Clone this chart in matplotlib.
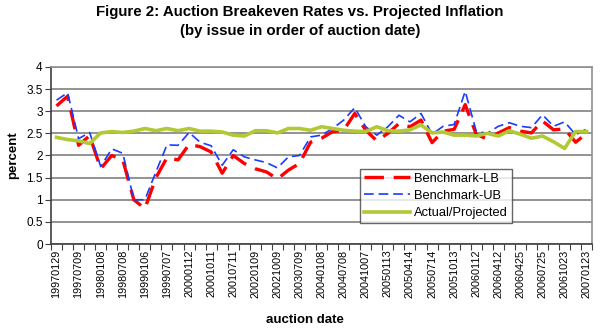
import matplotlib
matplotlib.use("Agg")
import matplotlib.pyplot as plt
import numpy as np

plt.rcParams['font.family'] = ['Liberation Sans', 'DejaVu Sans']
plt.rcParams['lines.scale_dashes'] = False

tick_labels = ["19970129", "19970709", "19980108", "19980708", "19990106",
               "19990707", "20000112", "20001011", "20010711", "20020109",
               "20021009", "20030709", "20040108", "20040708", "20041007",
               "20050113", "20050414", "20050714", "20051013", "20060112",
               "20060412", "20060425", "20060725", "20061023", "20070123"]

benchmark_lb = [3.12, 3.34, 2.23, 2.45, 1.70, 2.00, 1.90, 1.00, 0.80, 1.50,
                1.95, 1.90, 2.25, 2.20, 2.08, 1.60, 2.00, 1.82, 1.70, 1.63,
                1.47, 1.67, 1.82, 2.30, 2.39, 2.54, 2.57, 2.95, 2.57, 2.33,
                2.50, 2.72, 2.65, 2.80, 2.29, 2.55, 2.59, 3.15, 2.48, 2.37,
                2.51, 2.63, 2.55, 2.51, 2.78, 2.58, 2.60, 2.30, 2.50]

benchmark_ub = [3.25, 3.42, 2.38, 2.52, 1.75, 2.15, 2.05, 1.00, 1.00, 1.63,
                2.24, 2.23, 2.52, 2.30, 2.22, 1.78, 2.13, 1.97, 1.90, 1.84,
                1.72, 1.97, 2.00, 2.42, 2.46, 2.61, 2.80, 3.08, 2.65, 2.46,
                2.65, 2.91, 2.76, 2.95, 2.48, 2.66, 2.70, 3.45, 2.55, 2.50,
                2.66, 2.74, 2.66, 2.63, 2.92, 2.66, 2.76, 2.47, 2.60]

actual_projected = [2.41, 2.36, 2.33, 2.27, 2.51, 2.54, 2.52, 2.55, 2.61, 2.56,
                    2.61, 2.56, 2.61, 2.55, 2.55, 2.53, 2.46, 2.44, 2.56, 2.56,
                    2.51, 2.61, 2.61, 2.57, 2.65, 2.61, 2.57, 2.55, 2.54, 2.65,
                    2.56, 2.55, 2.58, 2.69, 2.51, 2.53, 2.46, 2.46, 2.44, 2.50,
                    2.44, 2.56, 2.48, 2.39, 2.44, 2.31, 2.16, 2.54, 2.54]

n = len(benchmark_lb)
x = np.arange(n)

fig = plt.figure(figsize=(6, 3.3), dpi=100)
ax = fig.add_axes([0.085, 0.2606, 0.902, 0.5364])

ax.set_ylim(0, 4)
ax.set_xlim(-0.5, n - 0.5)
ax.set_yticks(np.arange(0, 4.01, 0.5))
ax.set_yticklabels(["0", "0.5", "1", "1.5", "2", "2.5", "3", "3.5", "4"], fontsize=8.5)
ax.yaxis.grid(True, color='#808080', linewidth=1.2)
ax.set_axisbelow(True)

# category boundaries as tick marks, labels at every other category
ax.set_xticks(np.arange(-0.5, n, 1.0))
ax.set_xticklabels([])
ax.tick_params(axis='x', which='major', length=4, direction='out', color='#404040')
ax.set_xticks(np.arange(0, n, 2), minor=True)
ax.set_xticklabels(tick_labels, minor=True, rotation=90, fontsize=7.8)
ax.tick_params(axis='x', which='minor', length=0, pad=4)
ax.tick_params(axis='y', length=4, direction='out', color='#404040', pad=2)

ln_lb, = ax.plot(x, benchmark_lb, color='#FF0000', linewidth=2.4, label='Benchmark-LB')
ln_lb.set_dashes([14, 7])
ln_ub, = ax.plot(x, benchmark_ub, color='#1A3CFF', linewidth=1.2, label='Benchmark-UB')
ln_ub.set_dashes([7, 3.5])
ax.plot(x, actual_projected, color='#B2C834', linewidth=2.6, label='Actual/Projected')

for s in ['left', 'bottom']:
    ax.spines[s].set_color('#404040')
    ax.spines[s].set_linewidth(1.2)
for s in ['right', 'top']:
    ax.spines[s].set_color('#909090')
    ax.spines[s].set_linewidth(1.2)

leg = ax.legend(loc='lower left', bbox_to_anchor=(0.571, 0.119), fontsize=9.3,
                frameon=True, fancybox=False, edgecolor='#404040',
                handlelength=3.6, borderpad=0.3, labelspacing=0.4,
                handletextpad=0.3, borderaxespad=0)
leg.get_frame().set_linewidth(1.0)

ax.set_ylabel('percent', fontsize=9.5, fontweight='bold', labelpad=5)
fig.text(0.508, 0.012, 'auction date', ha='center', va='bottom',
         fontsize=9.5, fontweight='bold')
fig.text(0.5, 0.963, 'Figure 2: Auction Breakeven Rates vs. Projected Inflation',
         ha='center', va='center', fontsize=10.8, fontweight='bold')
fig.text(0.5, 0.905, '(by issue in order of auction date)',
         ha='center', va='center', fontsize=10.8, fontweight='bold')

fig.savefig('out.png', dpi=100)
